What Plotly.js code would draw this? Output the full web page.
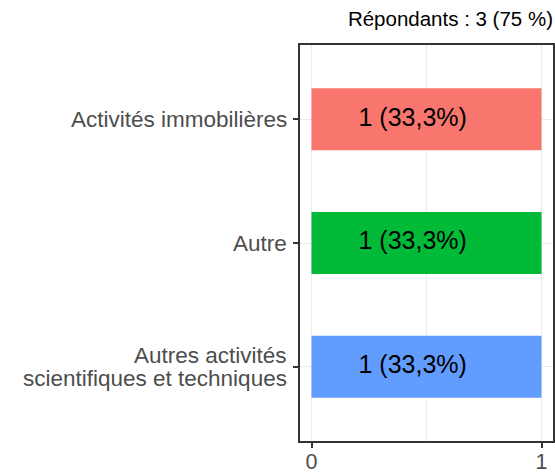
<!DOCTYPE html>
<html>
<head>
<meta charset="utf-8">
<script src="https://cdn.plot.ly/plotly-3.0.1.min.js"></script>
<style>html,body{margin:0;padding:0;background:#fff}</style>
</head>
<body>
<div id="chart" style="width:555px;height:474px"></div>
<script>
// Data (bottom to top)
var categories = ['Autres activités<br>scientifiques et techniques', 'Autre', 'Activités immobilières'];
var counts = [1, 1, 1];
var labels = ['1 (33,3%)', '1 (33,3%)', '1 (33,3%)'];
var colors = ['#619CFF', '#00BA38', '#F8766D'];
var xTickVals = [0, 1];
var xTickText = ['0', '1'];
var titleText = 'Répondants : 3 (75 %)';
var labelFrac = 0.44;

var FONT = 'Liberation Sans, Arial, Helvetica, sans-serif';
var TICK_SIZE = 22.5;
var LINE_GAP = 22.5;

var bars = {
  type: 'bar', orientation: 'h',
  y: categories, x: counts,
  marker: {color: colors, line: {width: 0}},
  width: 0.5,
  hoverinfo: 'none', showlegend: false
};
var txt = {
  type: 'scatter', mode: 'text',
  y: categories, x: counts.map(function(v){return v*labelFrac;}),
  text: labels,
  textposition: 'middle center',
  textfont: {family: FONT, size: 25, color: '#000000'},
  hoverinfo: 'none', showlegend: false
};

// y tick labels as annotations (tighter line spacing as in reference)
var annotations = [];
categories.forEach(function(cat){
  var lines = cat.split('<br>');
  var n = lines.length;
  lines.forEach(function(line, i){
    annotations.push({
      xref: 'paper', x: 0, xanchor: 'right', xshift: -12,
      yref: 'y', y: cat, yanchor: 'middle',
      yshift: ((n - 1) / 2 - i) * LINE_GAP,
      text: line, showarrow: false, borderpad: 0,
      font: {family: FONT, size: TICK_SIZE, color: '#4D4D4D'}
    });
  });
});

var layout = {
  width: 555, height: 474,
  margin: {l: 300, r: 2, t: 45, b: 33},
  paper_bgcolor: '#ffffff', plot_bgcolor: '#ffffff',
  font: {family: FONT},
  title: {
    text: titleText,
    font: {family: FONT, size: 20.5, color: '#000000'},
    xref: 'paper', x: 1, xanchor: 'right',
    yref: 'container', y: 1 - 19/474, yanchor: 'middle'
  },
  annotations: annotations,
  xaxis: {
    range: [-0.05, 1.05],
    tickvals: xTickVals, ticktext: xTickText,
    showgrid: true, gridcolor: '#EBEBEB', gridwidth: 1,
    minor: {tickvals: [0.5], showgrid: true, gridcolor: '#EBEBEB', gridwidth: 1, ticks: ''},
    zeroline: false,
    showline: true, mirror: true, linecolor: '#333333', linewidth: 2,
    ticks: 'outside', ticklen: 5, tickwidth: 2, tickcolor: '#333333',
    ticklabelstandoff: -5,
    tickfont: {family: FONT, size: 21.5, color: '#4D4D4D'}
  },
  yaxis: {
    type: 'category',
    categoryorder: 'array', categoryarray: categories,
    range: [-0.6, 2.6],
    showgrid: true, gridcolor: '#EBEBEB', gridwidth: 1,
    zeroline: false,
    showticklabels: false,
    showline: true, mirror: true, linecolor: '#333333', linewidth: 2,
    ticks: 'outside', ticklen: 5, tickwidth: 2, tickcolor: '#333333'
  }
};

Plotly.newPlot('chart', [bars, txt], layout, {displayModeBar: false, staticPlot: true});
</script>
</body>
</html>
